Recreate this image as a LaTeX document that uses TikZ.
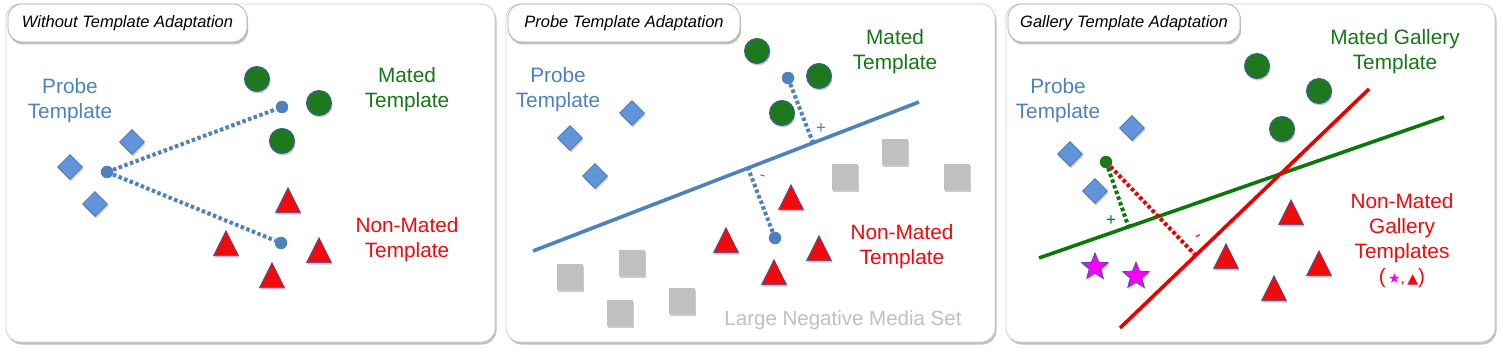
\documentclass[tikz,border=0pt]{standalone}
\usepackage{fontspec}
\setmainfont{Liberation Sans}
\newfontfamily\symfont{DejaVu Sans}
\usetikzlibrary{shapes.geometric,shadows,calc}
\definecolor{pblue}{RGB}{79,129,189}
\definecolor{dfill}{RGB}{98,148,218}
\definecolor{dborder}{RGB}{70,112,180}
\definecolor{gfill}{RGB}{30,120,30}
\definecolor{gborder}{RGB}{55,95,150}
\definecolor{gtext}{RGB}{20,120,20}
\definecolor{gline}{RGB}{10,120,10}
\definecolor{tred}{RGB}{240,10,10}
\definecolor{tborder}{RGB}{70,85,160}
\definecolor{rline}{RGB}{235,0,0}
\definecolor{sgray}{RGB}{192,192,192}
\definecolor{mag}{RGB}{250,0,250}
\definecolor{panelb}{RGB}{205,205,205}
\begin{document}
\begin{tikzpicture}[x=1pt,y=-1pt,
  panel/.style={draw=panelb, fill=white, rounded corners=14pt, line width=0.8pt, inner sep=0pt,
    drop shadow={shadow xshift=1.5pt, shadow yshift=-2.5pt, opacity=0.35, fill=black!70}},
  titlebox/.style={draw=black!30, fill=white, rounded corners=14pt, line width=0.8pt, inner sep=0pt,
    font=\itshape\fontsize{16.5}{19}\selectfont,
    drop shadow={shadow xshift=1pt, shadow yshift=-2.5pt, opacity=0.35, fill=black!70}},
  shshadow/.style={drop shadow={shadow xshift=1pt, shadow yshift=-2pt, opacity=0.2, fill=black}},
  diam/.style={diamond, draw=dborder, fill=dfill, minimum width=25pt, minimum height=25pt, inner sep=0pt, line width=0.8pt, shshadow},
  gcirc/.style={circle, draw=gborder, fill=gfill, minimum size=25pt, inner sep=0pt, line width=1pt, shshadow},
  bdot/.style={circle, fill=pblue, minimum size=12.5pt, inner sep=0pt},
  gdot/.style={circle, fill=gfill, minimum size=12.5pt, inner sep=0pt},
  tri/.style={isosceles triangle, isosceles triangle stretches, shape border rotate=90,
    minimum width=25pt, minimum height=25pt, inner sep=0pt, draw=tborder, fill=tred, line width=0.8pt, shshadow},
  sq/.style={rectangle, fill=sgray, minimum size=26pt, inner sep=0pt, shshadow},
  starsh/.style={star, star points=5, star point ratio=2.3, minimum size=28pt, inner sep=0pt,
    draw=tborder, fill=mag, line width=0.8pt, shshadow},
  lbl/.style={align=center, font=\fontsize{20.8}{25}\selectfont, inner sep=0pt},
  sgn/.style={font=\fontsize{17}{17}\selectfont, inner sep=0pt},
  dotline/.style={line width=4pt, dash pattern=on 3.5pt off 2.5pt},
  sepline/.style={line width=3.6pt}
]
\useasboundingbox (0,0) rectangle (1503,353);

% ---------------- panels ----------------
\node[panel, minimum width=489pt, minimum height=338pt] (p1) at (250.5,173) {};
\node[panel, minimum width=489pt, minimum height=338pt] (p2) at (750.5,173) {};
\node[panel, minimum width=489pt, minimum height=338pt] (p3) at (1250.5,173) {};
\node[titlebox, minimum width=239pt, minimum height=38pt] (t1) at (127.5,23) {Without Template Adaptation};
\node[titlebox, minimum width=232pt, minimum height=38pt] (t2) at (624,23) {Probe Template Adaptation};
\node[titlebox, minimum width=232pt, minimum height=38pt] (t3) at (1124,23) {Gallery Template Adaptation};

% ---------------- panel 1 ----------------
\node[lbl, text=pblue] (pt1) at (70,101) {Probe\\Template};
\node[lbl, text=gtext] (mt1) at (407,90) {Mated\\Template};
\node[lbl, text=tred] (nt1) at (407,240) {Non-Mated\\Template};
\node[diam] (d1a) at (70,167) {};
\node[diam] (d1b) at (132,142) {};
\node[diam] (d1c) at (95,204) {};
\node[gcirc] (c1a) at (257,79) {};
\node[gcirc] (c1b) at (319,103) {};
\node[gcirc] (c1c) at (282,141) {};
\node[tri] (r1a) at (288,205) {};
\node[tri] (r1b) at (226,248) {};
\node[tri] (r1c) at (319,255) {};
\node[tri] (r1d) at (272,280) {};
\node[bdot] (q1) at (107,172) {};
\node[bdot] (m1) at (282,107) {};
\node[bdot] (n1) at (281,243) {};
\draw[dotline, pblue] (q1) -- (m1);
\draw[dotline, pblue] (q1) -- (n1);

% ---------------- panel 2 ----------------
\node[lbl, text=pblue] (pt2) at (558,90) {Probe\\Template};
\node[lbl, text=gtext] (mt2) at (895,52) {Mated\\Template};
\node[lbl, text=tred] (nt2) at (902,247) {Non-Mated\\Template};
\node[lbl, text=sgray, font=\fontsize{20.5}{25}\selectfont] (ln2) at (843,320) {Large Negative Media Set};
\node[sq] (s2a) at (845,177) {};
\node[sq] (s2b) at (895,152) {};
\node[sq] (s2c) at (957,177) {};
\node[sq] (s2d) at (570,277) {};
\node[sq] (s2e) at (632,263) {};
\node[sq] (s2f) at (620,313) {};
\node[sq] (s2g) at (682,301) {};
\node[diam] (d2a) at (632,113) {};
\node[diam] (d2b) at (570,138) {};
\node[diam] (d2c) at (595,176) {};
\node[gcirc] (c2a) at (757,51) {};
\node[gcirc] (c2b) at (819,76) {};
\node[gcirc] (c2c) at (782,113) {};
\node[tri] (r2a) at (791,202) {};
\node[tri] (r2b) at (726,245) {};
\node[tri] (r2c) at (819,253) {};
\node[tri] (r2d) at (774,277) {};
\coordinate (l2a) at (533,251);
\coordinate (l2b) at (919,102);
\draw[sepline, pblue] (l2a) -- (l2b);
\node[bdot] (m2) at (788,78) {};
\node[bdot] (n2) at (775,238) {};
\coordinate (f2m) at ($(l2a)!(m2)!(l2b)$);
\coordinate (f2n) at ($(l2a)!(n2)!(l2b)$);
\draw[dotline, pblue] (m2) -- (f2m);
\draw[dotline, pblue] (n2) -- (f2n);
\node[sgn, text=pblue] (plus2) at (821,129) {+};
\node[sgn, text=pblue, rotate=-15] (minus2) at (762,178) {-};

% ---------------- panel 3 ----------------
\node[lbl, text=pblue] (pt3) at (1058,101) {Probe\\Template};
\node[lbl, text=gtext] (mt3) at (1395,52) {Mated Gallery\\Template};
\node[lbl, text=tred] (nt3) at (1402,241) {Non-Mated\\Gallery\\Templates\\({\symfont\fontsize{14}{14}\selectfont\,\textcolor{mag}{★},\,▲})};
\node[diam] (d3a) at (1132,128) {};
\node[diam] (d3b) at (1070,154) {};
\node[diam] (d3c) at (1095,191) {};
\node[gcirc] (c3a) at (1257,66) {};
\node[gcirc] (c3b) at (1319,91) {};
\node[gcirc] (c3c) at (1282,129) {};
\node[tri] (r3a) at (1291,217) {};
\node[tri] (r3b) at (1226,261) {};
\node[tri] (r3c) at (1319,268) {};
\node[tri] (r3d) at (1274,293) {};
\node[starsh] (st3a) at (1095,267) {};
\node[starsh] (st3b) at (1136,276) {};
\coordinate (g3a) at (1039,258);
\coordinate (g3b) at (1444,117);
\coordinate (r3la) at (1120,328);
\coordinate (r3lb) at (1369,89);
\draw[sepline, gline] (g3a) -- (g3b);
\draw[sepline, rline] (r3la) -- (r3lb);
\node[gdot] (q3) at (1106,162) {};
\coordinate (f3g) at ($(g3a)!(q3)!(g3b)$);
\coordinate (f3r) at ($(r3la)!(q3)!(r3lb)$);
\draw[dotline, gline] (q3) -- (f3g);
\draw[dotline, rline] (q3) -- (f3r);
\node[sgn, text=gline] (plus3) at (1111,221) {+};
\node[sgn, text=rline, rotate=30] (minus3) at (1199,238) {-};
\end{tikzpicture}
\end{document}
